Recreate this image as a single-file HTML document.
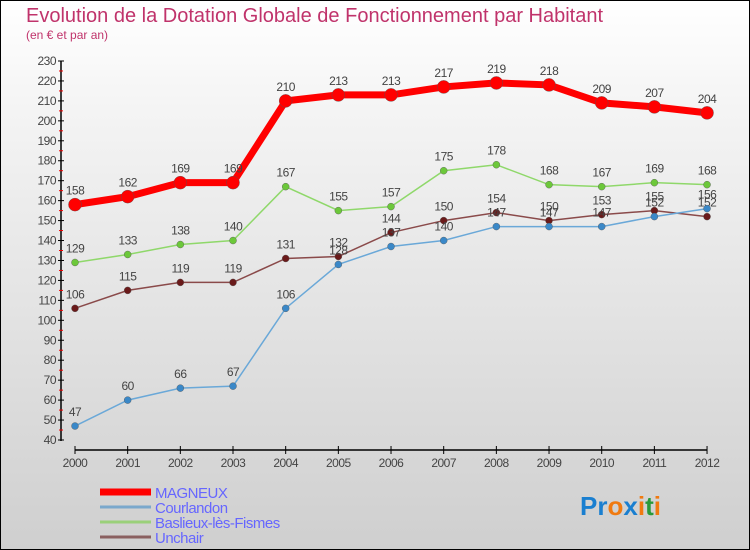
<!DOCTYPE html>
<html><head><meta charset="utf-8"><style>
body{margin:0}
#wrap{width:750px;height:550px;position:relative;box-sizing:border-box;border:1px solid #000;background:linear-gradient(#fff,#f4f4f4 20%,#cfcfcf);font-family:"Liberation Sans",sans-serif;overflow:hidden}
</style></head><body>
<div id="wrap">
<svg id="c" width="750" height="550" style="position:absolute;left:-1px;top:-1px">
<text x="26" y="22" font-size="20" fill="#c0336b">Evolution de la Dotation Globale de Fonctionnement par Habitant</text>
<text x="26" y="39" font-size="12" fill="#c0336b">(en € et par an)</text>
<g id="axes"></g><g id="series"></g><g id="legend"></g>
<text x="580" y="515" font-size="26" font-weight="bold"><tspan fill="#1a7fd0">Pr</tspan><tspan fill="#f07a10">o</tspan><tspan fill="#1a7fd0">x</tspan><tspan fill="#f07a10">i</tspan><tspan fill="#2a9a3a">t</tspan><tspan fill="#f07a10">i</tspan></text>
</svg></div>
<script>
const years=[2000,2001,2002,2003,2004,2005,2006,2007,2008,2009,2010,2011,2012];
const magneux=[158,162,169,169,210,213,213,217,219,218,209,207,204];
const courlandon=[47,60,66,67,106,128,137,140,147,147,147,152,156];
const baslieux=[129,133,138,140,167,155,157,175,178,168,167,169,168];
const unchair=[106,115,119,119,131,132,144,150,154,150,153,155,152];
const yTicks=[40,50,60,70,80,90,100,110,120,130,140,150,160,170,180,190,200,210,220,230];
const NS="http://www.w3.org/2000/svg";
const X=i=>75+i*52.67, Y=v=>440-(v-40)*(379/190);
function mk(t,a,p){const e=document.createElementNS(NS,t);for(const k in a)e.setAttribute(k,a[k]);p.appendChild(e);return e;}
const ax=document.getElementById('axes');
let e=mk('line',{x1:61,y1:61,x2:61,y2:441,stroke:'#000','stroke-width':1.5},ax);

e=mk('line',{x1:75,y1:450,x2:707,y2:450,stroke:'#000','stroke-width':1.5},ax);

yTicks.forEach(v=>{mk('line',{x1:58,x2:64,y1:Y(v),y2:Y(v),stroke:'#000'},ax);
 if(v<230)mk('line',{x1:59,x2:63,y1:Y(v+5),y2:Y(v+5),stroke:'#e00'},ax);
 const t=mk('text',{x:56,y:Y(v)+4,'text-anchor':'end','font-size':12,fill:'#444','letter-spacing':'-0.5'},ax);t.textContent=v;
 });
years.forEach((y,i)=>{mk('line',{x1:X(i),x2:X(i),y1:446,y2:454,stroke:'#000'},ax);
 const t=mk('text',{x:X(i),y:467,'text-anchor':'middle','font-size':12,fill:'#444','letter-spacing':'-0.5'},ax);t.textContent=y;
 });
const sg=document.getElementById('series');
function series(name,d,col,dot,w,r){const g=mk('g',{},sg);
 const p=mk('polyline',{points:d.map((v,i)=>X(i)+','+Y(v)).join(' '),fill:'none',stroke:col,'stroke-width':w},g);
 
 d.forEach((v,i)=>{const c=mk('circle',{cx:X(i),cy:Y(v),r:r,fill:dot,stroke:'#555','stroke-width':0.4},g);
  
  const t=mk('text',{x:X(i),y:Y(v)-10,'text-anchor':'middle','font-size':12,fill:'#444','letter-spacing':'-0.5'},g);t.textContent=v;
  });}
series('baslieux',baslieux,'#8fd86a','#6cc83a',1.5,3.5);
series('unchair',unchair,'#8a4a4a','#6a1a1a',1.5,3.5);
series('courlandon',courlandon,'#6aa8d8','#3a88c8',1.5,3.5);
series('magneux',magneux,'#f00','#f00',7,6.5);
const lg=document.getElementById('legend');
[['MAGNEUX','#f00',7],['Courlandon','#7aa8cc',3],['Baslieux-lès-Fismes','#9ad07a',3],['Unchair','#8a6060',3]].forEach((s,i)=>{
 const y=492+i*15;const g=mk('g',{},lg);
 mk('line',{x1:100,x2:151,y1:y,y2:y,stroke:s[1],'stroke-width':s[2]},g);
 const t=mk('text',{x:155,y:y+6,'font-size':15,fill:'#66f','letter-spacing':'-0.5'},g);t.textContent=s[0];});
</script></body></html>
